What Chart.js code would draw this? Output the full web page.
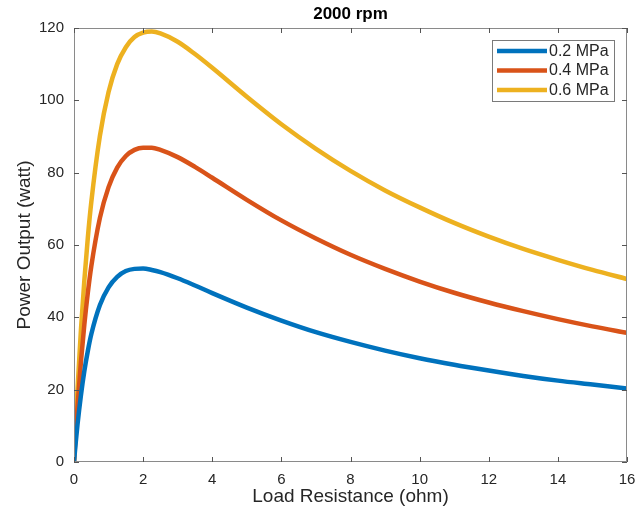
<!DOCTYPE html>
<html>
<head>
<meta charset="utf-8">
<script src="https://cdn.jsdelivr.net/npm/chart.js@4/dist/chart.umd.min.js"></script>
<style>
  html, body { margin: 0; padding: 0; background: #fff; }
  #wrap { width: 637px; height: 515px; }
</style>
</head>
<body>
<div id="wrap"><canvas id="c" width="637" height="515"></canvas></div>
<script>
// ---- data ----
const chartTitle = "2000 rpm";
const xTitle = "Load Resistance (ohm)";
const yTitle = "Power Output (watt)";
const seriesLabels = ["0.2 MPa", "0.4 MPa", "0.6 MPa"];
const loadResistance = [0, 0.05, 0.1, 0.2, 0.3, 0.4, 0.5, 0.75, 1, 1.25, 1.5, 1.75, 2, 2.25, 2.5, 3, 3.5, 4, 5, 6, 7, 8, 9, 10, 11, 12, 13, 14, 15, 16];
const power02 = [0, 5.4, 10.2, 18.4, 25.2, 30.7, 35.3, 43.4, 48.3, 51.2, 52.8, 53.4, 53.5, 53.1, 52.5, 50.8, 48.8, 46.7, 42.7, 39.1, 35.9, 33.2, 30.8, 28.7, 26.9, 25.3, 23.8, 22.5, 21.4, 20.3];
const power04 = [0, 7.9, 15.1, 27.6, 38.1, 46.8, 54.1, 67.5, 76.0, 81.4, 84.6, 86.3, 86.9, 86.9, 86.3, 84.3, 81.6, 78.6, 72.5, 66.8, 61.8, 57.3, 53.4, 49.9, 46.8, 44.1, 41.7, 39.5, 37.5, 35.7];
const power06 = [0, 10.3, 19.8, 36.4, 50.3, 62.0, 71.8, 90.2, 102.3, 110.0, 114.7, 117.5, 118.7, 119.0, 118.5, 116.2, 112.8, 109.0, 101.0, 93.4, 86.6, 80.5, 75.1, 70.4, 66.1, 62.3, 58.9, 55.9, 53.1, 50.6];
const xTicks = [0, 2, 4, 6, 8, 10, 12, 14, 16];
const yTicks = [0, 20, 40, 60, 80, 100, 120];
const colors = ["#0072BD", "#D95319", "#EDB120"];

const FONT = "'Liberation Sans', Arial, Helvetica, sans-serif";
const TXT = "#262626";

function toPoints(xs, ys) { return xs.map((x, i) => ({ x: x, y: ys[i] })); }
const allSeries = [power02, power04, power06];

const datasets = allSeries.map((s, i) => ({
  label: seriesLabels[i],
  data: toPoints(loadResistance, s),
  borderColor: colors[i],
  backgroundColor: colors[i],
  borderWidth: 4.5,
  pointRadius: 0,
  fill: false,
  cubicInterpolationMode: 'monotone'
}));

// box + inward ticks on all four sides
const framePlugin = {
  id: 'frame',
  afterDatasetsDraw(chart) {
    const { ctx, chartArea: a, scales: { x, y } } = chart;
    ctx.save();
    ctx.strokeStyle = '#8a8a8a';
    ctx.lineWidth = 1;
    ctx.strokeRect(Math.round(a.left) + 0.5, Math.round(a.top) + 0.5,
                   Math.round(a.right - a.left) - 1, Math.round(a.bottom - a.top) - 1);
    ctx.strokeStyle = '#555';
    const L = 5;
    ctx.beginPath();
    xTicks.forEach(v => {
      const px = Math.round(x.getPixelForValue(v)) + 0.5;
      ctx.moveTo(px, a.bottom); ctx.lineTo(px, a.bottom - L);
      ctx.moveTo(px, a.top); ctx.lineTo(px, a.top + L);
    });
    yTicks.forEach(v => {
      const py = Math.round(y.getPixelForValue(v)) + 0.5;
      ctx.moveTo(a.left, py); ctx.lineTo(a.left + L, py);
      ctx.moveTo(a.right, py); ctx.lineTo(a.right - L, py);
    });
    ctx.stroke();
    ctx.restore();
  }
};

// MATLAB-style legend inside the axes (top right)
const legendPlugin = {
  id: 'insideLegend',
  afterDraw(chart) {
    const { ctx, chartArea: a } = chart;
    const w = 122, h = 61;
    const bx = a.right - 13 - w, by = a.top + 12;
    ctx.save();
    ctx.fillStyle = '#fff';
    ctx.fillRect(bx, by, w, h);
    ctx.strokeStyle = '#7a7a7a';
    ctx.lineWidth = 1;
    ctx.strokeRect(Math.round(bx) + 0.5, Math.round(by) + 0.5, w, h);
    ctx.font = "16px " + FONT;
    ctx.textBaseline = 'middle';
    ctx.fillStyle = TXT;
    chart.data.datasets.forEach((ds, i) => {
      const yy = by + 11 + i * 19.5;
      ctx.strokeStyle = ds.borderColor;
      ctx.lineWidth = 4.5;
      ctx.beginPath();
      ctx.moveTo(bx + 5, yy); ctx.lineTo(bx + 55, yy);
      ctx.stroke();
      ctx.fillText(ds.label, bx + 57, yy + 0.5);
    });
    ctx.restore();
  }
};

new Chart(document.getElementById('c'), {
  type: 'line',
  data: { datasets: datasets },
  plugins: [framePlugin, legendPlugin],
  options: {
    responsive: false,
    animation: false,
    layout: { padding: { top: 0, right: 10, bottom: 0, left: 0 } },
    plugins: {
      legend: { display: false },
      tooltip: { enabled: false },
      title: {
        display: true,
        text: chartTitle,
        fullSize: false,
        color: '#000',
        font: { family: FONT, size: 17, weight: 'bold', lineHeight: 1.2 },
        padding: { top: 4, bottom: 3.6 }
      }
    },
    scales: {
      x: {
        type: 'linear',
        min: 0, max: 16,
        afterFit(scale) { scale.height = 53; scale.paddingLeft = 0; scale.paddingRight = 0; },
        afterBuildTicks(scale) { scale.ticks = xTicks.map(v => ({ value: v })); },
        grid: { display: false, drawTicks: false },
        border: { display: false },
        ticks: { color: TXT, padding: 9, maxRotation: 0, font: { family: FONT, size: 15 } },
        title: { display: true, text: xTitle, color: TXT, font: { family: FONT, size: 19, lineHeight: 1.2 }, padding: { top: 0, bottom: 7 } }
      },
      y: {
        type: 'linear',
        min: 0, max: 120,
        afterFit(scale) { scale.width = 74; scale.paddingTop = 0; scale.paddingBottom = 0; },
        afterBuildTicks(scale) { scale.ticks = yTicks.map(v => ({ value: v })); },
        grid: { display: false, drawTicks: false },
        border: { display: false },
        ticks: { color: TXT, padding: 10, font: { family: FONT, size: 15 } },
        title: { display: true, text: yTitle, color: TXT, font: { family: FONT, size: 19, lineHeight: 1.2 }, padding: { top: 13, bottom: 0 } }
      }
    }
  }
});
</script>
</body>
</html>
